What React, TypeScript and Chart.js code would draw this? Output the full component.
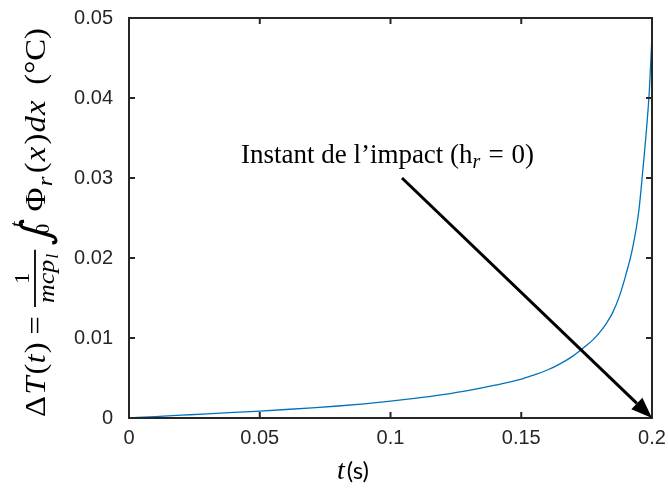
import React, { useEffect, useRef } from "react";
import { Chart, registerables } from "chart.js";

Chart.register(...registerables);

// ---- data ----
const timeS = [0, 0.01, 0.02, 0.03, 0.04, 0.05, 0.06, 0.07, 0.08, 0.09, 0.1, 0.11, 0.12, 0.13, 0.14, 0.15, 0.155, 0.16, 0.165, 0.17, 0.175, 0.1775, 0.18, 0.1825, 0.185, 0.1875, 0.19, 0.1925, 0.195, 0.1965, 0.198, 0.199, 0.2];
const deltaT = [0, 0.00018, 0.00035, 0.00052, 0.0007, 0.00087, 0.00106, 0.00127, 0.0015, 0.00177, 0.0021, 0.00248, 0.00292, 0.00345, 0.0041, 0.00485, 0.0054, 0.006, 0.0068, 0.0078, 0.0091, 0.0098, 0.0107, 0.0118, 0.0132, 0.0152, 0.0179, 0.0211, 0.026, 0.031, 0.0365, 0.041, 0.0478];

const xTicks = [0, 0.05, 0.1, 0.15, 0.2];
const yTicks = [0, 0.01, 0.02, 0.03, 0.04, 0.05];
const xTickLabels = ["0", "0.05", "0.1", "0.15", "0.2"];
const yTickLabels = ["0", "0.01", "0.02", "0.03", "0.04", "0.05"];

// annotation (data coordinates)
const arrowFrom = { t: 0.1044, v: 0.03 };
const arrowTo = { t: 0.2, v: 0 };
const noteAnchor = { t: 0.0428, v: 0.0319 };
const noteMain = "Instant de l\u2019impact (h";
const noteSub = "r";
const noteEq = "=";
const noteTail = "0)";

const AXIS = "#262626";
const LINE = "#0072BD";

type Piece = { kind: "text"; s: string; font: string; dy: number; gap: number } | { kind: "custom"; w: number; draw: (ctx: CanvasRenderingContext2D, x: number) => void; gap: number };

function drawYTitle(ctx: CanvasRenderingContext2D) {
  const S = 29;
  const up = `${S}px "Liberation Serif"`;
  const it = `italic ${S}px "Liberation Serif"`;
  const m = (s: string, f: string) => {
    ctx.font = f;
    return ctx.measureText(s).width;
  };
  // fraction metrics
  const numF = '20px "Liberation Serif"';
  const denF = 'italic 23px "Liberation Serif"';
  const subF = 'italic 16px "Liberation Serif"';
  const wmcp = m("mcp", denF);
  const wl = m("l", subF);
  const fW = wmcp + wl + 8;
  const intW = 26;
  const pieces: Piece[] = [
    { kind: "text", s: "\u0394", font: up, dy: 0, gap: 1 },
    { kind: "text", s: "T", font: it, dy: 0, gap: 2 },
    { kind: "text", s: "(", font: up, dy: 0, gap: 0 },
    { kind: "text", s: "t", font: it, dy: 0, gap: 1 },
    { kind: "text", s: ")", font: up, dy: 0, gap: 7 },
    { kind: "text", s: "=", font: up, dy: 0, gap: 8 },
    {
      kind: "custom",
      w: fW,
      gap: 3,
      draw: (c, x) => {
        c.lineWidth = 1.8;
        c.strokeStyle = "#000";
        c.beginPath();
        c.moveTo(x, -10);
        c.lineTo(x + fW, -10);
        c.stroke();
        c.font = numF;
        const w1 = c.measureText("1").width;
        c.fillText("1", x + (fW - w1) / 2, -16);
        const d0 = x + (fW - wmcp - wl - 1) / 2;
        c.font = denF;
        c.fillText("mcp", d0, 9);
        c.font = subF;
        c.fillText("l", d0 + wmcp + 1, 13);
      },
    },
    {
      kind: "custom",
      w: intW,
      gap: 5,
      draw: (c, x) => {
        c.font = '40px "DejaVu Sans"';
        c.save();
        c.translate(x, 4);
        c.transform(1, 0, -0.2, 1, 0, 0);
        c.fillText("\u222B", 0, 0);
        c.restore();
        c.font = 'italic 18px "Liberation Serif"';
        c.fillText("t", x + 17, -22);
        c.font = '18px "Liberation Serif"';
        c.fillText("0", x + 11, 4);
      },
    },
    { kind: "text", s: "\u03A6", font: up, dy: 0, gap: 1 },
    { kind: "text", s: "r", font: 'italic 22px "Liberation Serif"', dy: 7, gap: 3 },
    { kind: "text", s: "(", font: up, dy: 0, gap: 1 },
    { kind: "text", s: "x", font: it, dy: 0, gap: 2 },
    { kind: "text", s: ")", font: up, dy: 0, gap: 1 },
    { kind: "text", s: "d", font: it, dy: 0, gap: 1 },
    { kind: "text", s: "x", font: it, dy: 0, gap: 14 },
    { kind: "text", s: "(\u00B0C)", font: up, dy: 0, gap: 0 },
  ];
  let total = 0;
  pieces.forEach((p) => {
    total += (p.kind === "text" ? m(p.s, p.font) : p.w) + p.gap;
  });
  const target = 389;
  const k = target / total;
  ctx.save();
  ctx.translate(45, 417);
  ctx.rotate(-Math.PI / 2);
  ctx.scale(k, 1);
  ctx.fillStyle = "#000";
  ctx.textBaseline = "alphabetic";
  ctx.textAlign = "left";
  let cx = 0;
  pieces.forEach((p) => {
    if (p.kind === "text") {
      ctx.font = p.font;
      ctx.fillText(p.s, cx, p.dy);
      cx += ctx.measureText(p.s).width + p.gap;
    } else {
      p.draw(ctx, cx);
      cx += p.w + p.gap;
    }
  });
  ctx.restore();
}

const overlay = {
  id: "overlay",
  afterDatasetsDraw(chart: any) {
    const ctx = chart.ctx as CanvasRenderingContext2D;
    const { left, right, top, bottom } = chart.chartArea;
    const xs = chart.scales.x;
    const ys = chart.scales.y;
    ctx.save();
    // box
    ctx.strokeStyle = AXIS;
    ctx.lineWidth = 2;
    ctx.strokeRect(left, top, right - left, bottom - top);
    // inner ticks
    const tl = 6;
    ctx.beginPath();
    xTicks.forEach((v) => {
      const px = xs.getPixelForValue(v);
      ctx.moveTo(px, bottom);
      ctx.lineTo(px, bottom - tl);
      ctx.moveTo(px, top);
      ctx.lineTo(px, top + tl);
    });
    yTicks.forEach((v) => {
      const py = ys.getPixelForValue(v);
      ctx.moveTo(left, py);
      ctx.lineTo(left + tl, py);
      ctx.moveTo(right, py);
      ctx.lineTo(right - tl, py);
    });
    ctx.stroke();

    // arrow
    const x1 = xs.getPixelForValue(arrowFrom.t);
    const y1 = ys.getPixelForValue(arrowFrom.v);
    const x2 = xs.getPixelForValue(arrowTo.t);
    const y2 = ys.getPixelForValue(arrowTo.v);
    const ang = Math.atan2(y2 - y1, x2 - x1);
    const hl = 21, hw = 8;
    const bx = x2 - hl * Math.cos(ang);
    const by = y2 - hl * Math.sin(ang);
    ctx.strokeStyle = "#000";
    ctx.fillStyle = "#000";
    ctx.lineWidth = 3;
    ctx.beginPath();
    ctx.moveTo(x1, y1);
    ctx.lineTo(bx, by);
    ctx.stroke();
    ctx.beginPath();
    ctx.moveTo(x2, y2);
    ctx.lineTo(bx + hw * Math.sin(ang), by - hw * Math.cos(ang));
    ctx.lineTo(bx - hw * Math.sin(ang), by + hw * Math.cos(ang));
    ctx.closePath();
    ctx.fill();

    // annotation text
    let tx = xs.getPixelForValue(noteAnchor.t);
    const ty = ys.getPixelForValue(noteAnchor.v);
    ctx.textBaseline = "alphabetic";
    ctx.textAlign = "left";
    ctx.fillStyle = "#000";
    ctx.font = '27px "Liberation Serif"';
    ctx.fillText(noteMain, tx, ty);
    tx += ctx.measureText(noteMain).width;
    ctx.font = 'italic 20px "Liberation Serif"';
    ctx.fillText(noteSub, tx, ty + 5);
    tx += ctx.measureText(noteSub).width + 8;
    ctx.font = '27px "Liberation Serif"';
    ctx.fillText(noteEq, tx, ty);
    tx += ctx.measureText(noteEq).width + 8;
    ctx.fillText(noteTail, tx, ty);

    // x title
    ctx.fillStyle = "#000";
    const xt = "(s)";
    ctx.font = 'italic 28px "Liberation Serif"';
    const wT = ctx.measureText("t").width;
    ctx.font = '24px Lato';
    const wS = ctx.measureText(xt).width;
    let sx = 353 - (wT + wS + 2) / 2;
    const sy = 479;
    ctx.font = 'italic 28px "Liberation Serif"';
    ctx.fillText("t", sx, sy);
    sx += wT + 2;
    ctx.font = '24px Lato';
    ctx.fillText(xt, sx, sy);
    ctx.restore();

    drawYTitle(ctx);
  },
};

export default function App() {
  const ref = useRef<HTMLCanvasElement | null>(null);
  useEffect(() => {
    document.body.style.margin = "0";
    const canvas = ref.current;
    if (!canvas) return;
    const zeroPad = (s: any) => {
      s.paddingLeft = 0;
      s.paddingRight = 0;
      s.paddingTop = 0;
      s.paddingBottom = 0;
    };
    const chart = new Chart(canvas, {
      type: "scatter",
      data: {
        datasets: [
          {
            data: timeS.map((t, i) => ({ x: t, y: deltaT[i] })),
            showLine: true,
            borderColor: LINE,
            borderWidth: 1.3,
            pointRadius: 0,
            cubicInterpolationMode: "monotone",
            fill: false,
          },
        ],
      },
      options: {
        responsive: false,
        animation: false,
        devicePixelRatio: 1,
        layout: { padding: { left: 0, right: 16, top: 18, bottom: 0 } },
        plugins: { legend: { display: false }, tooltip: { enabled: false } },
        scales: {
          x: {
            type: "linear",
            min: 0,
            max: 0.2,
            grid: { display: false, drawTicks: false },
            border: { display: false },
            ticks: {
              color: AXIS,
              font: { family: '"Liberation Sans", Arial', size: 20 },
              padding: 8,
              maxRotation: 0,
              autoSkip: false,
              callback: (v: any) => {
                const i = xTicks.indexOf(Number(Number(v).toFixed(4)));
                return i >= 0 ? xTickLabels[i] : "";
              },
            },
            afterBuildTicks: (s: any) => {
              s.ticks = xTicks.map((v) => ({ value: v }));
            },
            afterFit: (s: any) => {
              s.height = 73;
              zeroPad(s);
            },
          },
          y: {
            type: "linear",
            min: 0,
            max: 0.05,
            grid: { display: false, drawTicks: false },
            border: { display: false },
            ticks: {
              color: AXIS,
              font: { family: '"Liberation Sans", Arial', size: 20 },
              padding: 16,
              autoSkip: false,
              callback: (v: any) => {
                const i = yTicks.indexOf(Number(Number(v).toFixed(4)));
                return i >= 0 ? yTickLabels[i] : "";
              },
            },
            afterBuildTicks: (s: any) => {
              s.ticks = yTicks.map((v) => ({ value: v }));
            },
            afterFit: (s: any) => {
              s.width = 129;
              zeroPad(s);
            },
          },
        },
      },
      plugins: [overlay],
    });
    return () => chart.destroy();
  }, []);
  return <canvas ref={ref} width={668} height={491} style={{ display: "block" }} />;
}
